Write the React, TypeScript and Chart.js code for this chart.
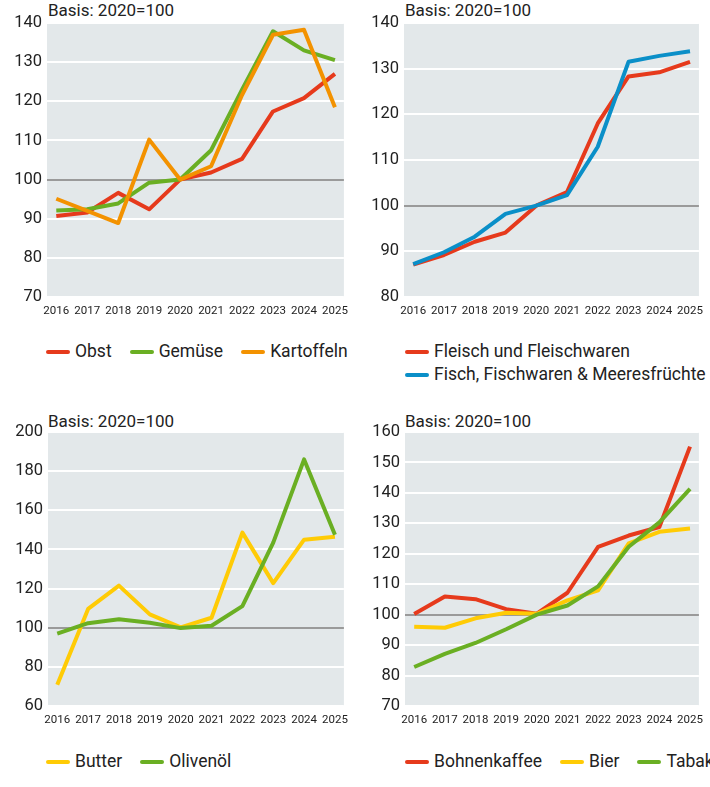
import React, { useEffect, useRef } from 'react';
import { Chart, registerables } from 'chart.js';

Chart.register(...registerables);

const YEARS = [2016, 2017, 2018, 2019, 2020, 2021, 2022, 2023, 2024, 2025];

const OBST = [90.7, 91.6, 96.6, 92.4, 100, 101.8, 105.3, 117.4, 120.8, 127.0];
const GEMUESE = [92.1, 92.4, 93.9, 99.2, 100, 107.5, 123.0, 137.9, 133.0, 130.5];
const KARTOFFELN = [95.1, 92.0, 88.9, 110.2, 100, 103.4, 121.6, 137.0, 138.3, 118.5];

const FLEISCH = [87.1, 89.2, 92.1, 94.1, 100, 103.0, 118.0, 128.3, 129.2, 131.5];
const FISCH = [87.2, 89.8, 93.2, 98.2, 100, 102.3, 112.9, 131.5, 132.8, 133.8];

const BUTTER = [70.8, 109.6, 121.5, 106.8, 100.2, 105.1, 148.6, 122.8, 145.0, 146.5];
const OLIVENOEL = [97.0, 102.3, 104.3, 102.5, 99.8, 101.0, 111.0, 143.5, 186.0, 147.5];

const BOHNENKAFFEE = [100.2, 106.0, 105.1, 101.8, 100.3, 107.2, 122.3, 126.0, 128.8, 155.2];
const BIER = [96.0, 95.7, 98.8, 100.6, 100.3, 104.7, 108.0, 123.4, 127.2, 128.3];
const TABAK = [82.8, 87.1, 90.7, 95.2, 100, 103.0, 109.3, 122.3, 130.3, 141.3];

const Y_TICKS_1 = [70, 80, 90, 100, 110, 120, 130, 140];
const Y_TICKS_2 = [80, 90, 100, 110, 120, 130, 140];
const Y_TICKS_3 = [60, 80, 100, 120, 140, 160, 180, 200];
const Y_TICKS_4 = [70, 80, 90, 100, 110, 120, 130, 140, 150, 160];

const TITLE = 'Basis: 2020=100';

const RED = '#e63a1c';
const GREEN = '#6aaf23';
const ORANGE = '#f39200';
const BLUE = '#0a8fc8';
const YELLOW = '#ffcb05';

const FONT = 'Roboto, "Noto Sans", sans-serif';
const TEXT = '#222222';

type Series = { label: string; values: number[]; color: string };
type Geo = {
  left: number; top: number; w: number; h: number;
  padTop: number; padRight: number; yW: number; xH: number;
};

const bgPlugin = {
  id: 'plotBg',
  beforeDraw(chart: any) {
    const { ctx, chartArea } = chart;
    if (!chartArea) return;
    ctx.save();
    ctx.fillStyle = '#e3e8ea';
    ctx.fillRect(chartArea.left, chartArea.top, chartArea.right - chartArea.left, chartArea.bottom - chartArea.top);
    ctx.restore();
  },
};

function Panel({ geo, series, yTicks }: { geo: Geo; series: Series[]; yTicks: number[] }) {
  const ref = useRef<HTMLCanvasElement>(null);
  useEffect(() => {
    const chart = new Chart(ref.current as HTMLCanvasElement, {
      type: 'line',
      data: {
        datasets: series.map((s, i) => ({
          label: s.label,
          data: YEARS.map((y, j) => ({ x: y, y: s.values[j] })),
          borderColor: s.color,
          backgroundColor: s.color,
          borderWidth: 4,
          pointRadius: 0,
          pointHoverRadius: 0,
          tension: 0,
          fill: false,
          order: -i,
          borderJoinStyle: 'round',
        })),
      } as any,
      options: {
        animation: false,
        responsive: false,
        devicePixelRatio: 1,
        events: [],
        layout: { padding: { top: geo.padTop, right: geo.padRight, left: 0, bottom: 0 } },
        plugins: { legend: { display: false }, tooltip: { enabled: false }, title: { display: false } },
        scales: {
          x: {
            type: 'linear',
            min: 2015.7,
            max: 2025.29,
            afterBuildTicks: (s: any) => { s.ticks = YEARS.map((v) => ({ value: v })); },
            afterFit: (s: any) => { s.height = geo.xH; },
            grid: { display: false, drawTicks: false },
            border: { display: false },
            ticks: {
              font: { family: FONT, size: 11.5 },
              color: TEXT,
              padding: 7,
              maxRotation: 0,
              autoSkip: false,
              callback: (v: any) => String(v),
            },
          },
          y: {
            type: 'linear',
            min: yTicks[0],
            max: yTicks[yTicks.length - 1],
            afterBuildTicks: (s: any) => { s.ticks = yTicks.map((v) => ({ value: v })); },
            afterFit: (s: any) => { s.width = geo.yW; },
            grid: {
              color: (c: any) => (c.tick && c.tick.value === 100 ? '#9a9a9a' : '#ffffff'),
              lineWidth: 2,
              drawTicks: false,
            },
            border: { display: false },
            ticks: {
              font: { family: FONT, size: 16.5 },
              color: TEXT,
              padding: 5,
              callback: (v: any) => String(v),
            },
          },
        },
      } as any,
      plugins: [bgPlugin],
    });
    return () => chart.destroy();
  }, []);
  return (
    <canvas
      ref={ref}
      width={geo.w}
      height={geo.h}
      style={{ position: 'absolute', left: geo.left, top: geo.top, width: geo.w, height: geo.h, display: 'block' }}
    />
  );
}

function Legend({ items, left, top, width, wrap }: { items: Series[]; left: number; top: number; width: number; wrap: boolean }) {
  return (
    <div
      style={{
        position: 'absolute', left, top, width,
        display: 'flex', flexWrap: wrap ? 'wrap' : 'nowrap', columnGap: 18, rowGap: 0,
        fontFamily: FONT, fontSize: 17.5, lineHeight: '23px', color: TEXT, whiteSpace: 'nowrap',
      }}
    >
      {items.map((it) => (
        <div key={it.label} style={{ display: 'flex', alignItems: 'center' }}>
          <span style={{ display: 'inline-block', width: 24, height: 4, borderRadius: 2, background: it.color, marginRight: 5 }} />
          <span>{it.label}</span>
        </div>
      ))}
    </div>
  );
}

function Title({ left, top }: { left: number; top: number }) {
  return (
    <div style={{ position: 'absolute', left, top, fontFamily: FONT, fontSize: 17, lineHeight: '20px', color: TEXT, whiteSpace: 'nowrap' }}>
      {TITLE}
    </div>
  );
}

const S1: Series[] = [
  { label: 'Obst', values: OBST, color: RED },
  { label: 'Gemüse', values: GEMUESE, color: GREEN },
  { label: 'Kartoffeln', values: KARTOFFELN, color: ORANGE },
];
const S2: Series[] = [
  { label: 'Fleisch und Fleischwaren', values: FLEISCH, color: RED },
  { label: 'Fisch, Fischwaren & Meeresfrüchte', values: FISCH, color: BLUE },
];
const S3: Series[] = [
  { label: 'Butter', values: BUTTER, color: YELLOW },
  { label: 'Olivenöl', values: OLIVENOEL, color: GREEN },
];
const S4: Series[] = [
  { label: 'Bohnenkaffee', values: BOHNENKAFFEE, color: RED },
  { label: 'Bier', values: BIER, color: YELLOW },
  { label: 'Tabak', values: TABAK, color: GREEN },
];

export default function App() {
  return (
    <div style={{ position: 'absolute', left: 0, top: 0, width: 710, height: 787, overflow: 'hidden', background: '#fff' }}>
      <Title left={48} top={0} />
      <Title left={405} top={0} />
      <Title left={48} top={411} />
      <Title left={405} top={411} />
      <Panel geo={{ left: 0, top: 0, w: 355, h: 320, padTop: 23, padRight: 5, yW: 47, xH: 23 }} series={S1} yTicks={Y_TICKS_1} />
      <Panel geo={{ left: 355, top: 0, w: 355, h: 320, padTop: 23, padRight: 2, yW: 49, xH: 23 }} series={S2} yTicks={Y_TICKS_2} />
      <Panel geo={{ left: 0, top: 400, w: 355, h: 330, padTop: 32, padRight: 4, yW: 48, xH: 24 }} series={S3} yTicks={Y_TICKS_3} />
      <Panel geo={{ left: 355, top: 400, w: 355, h: 330, padTop: 32, padRight: 2, yW: 50, xH: 24 }} series={S4} yTicks={Y_TICKS_4} />
      <Legend items={S1} left={46} top={340} width={309} wrap={true} />
      <Legend items={S2} left={405} top={340} width={305} wrap={true} />
      <Legend items={S3} left={46} top={750} width={309} wrap={true} />
      <Legend items={S4} left={405} top={750} width={400} wrap={false} />
    </div>
  );
}
